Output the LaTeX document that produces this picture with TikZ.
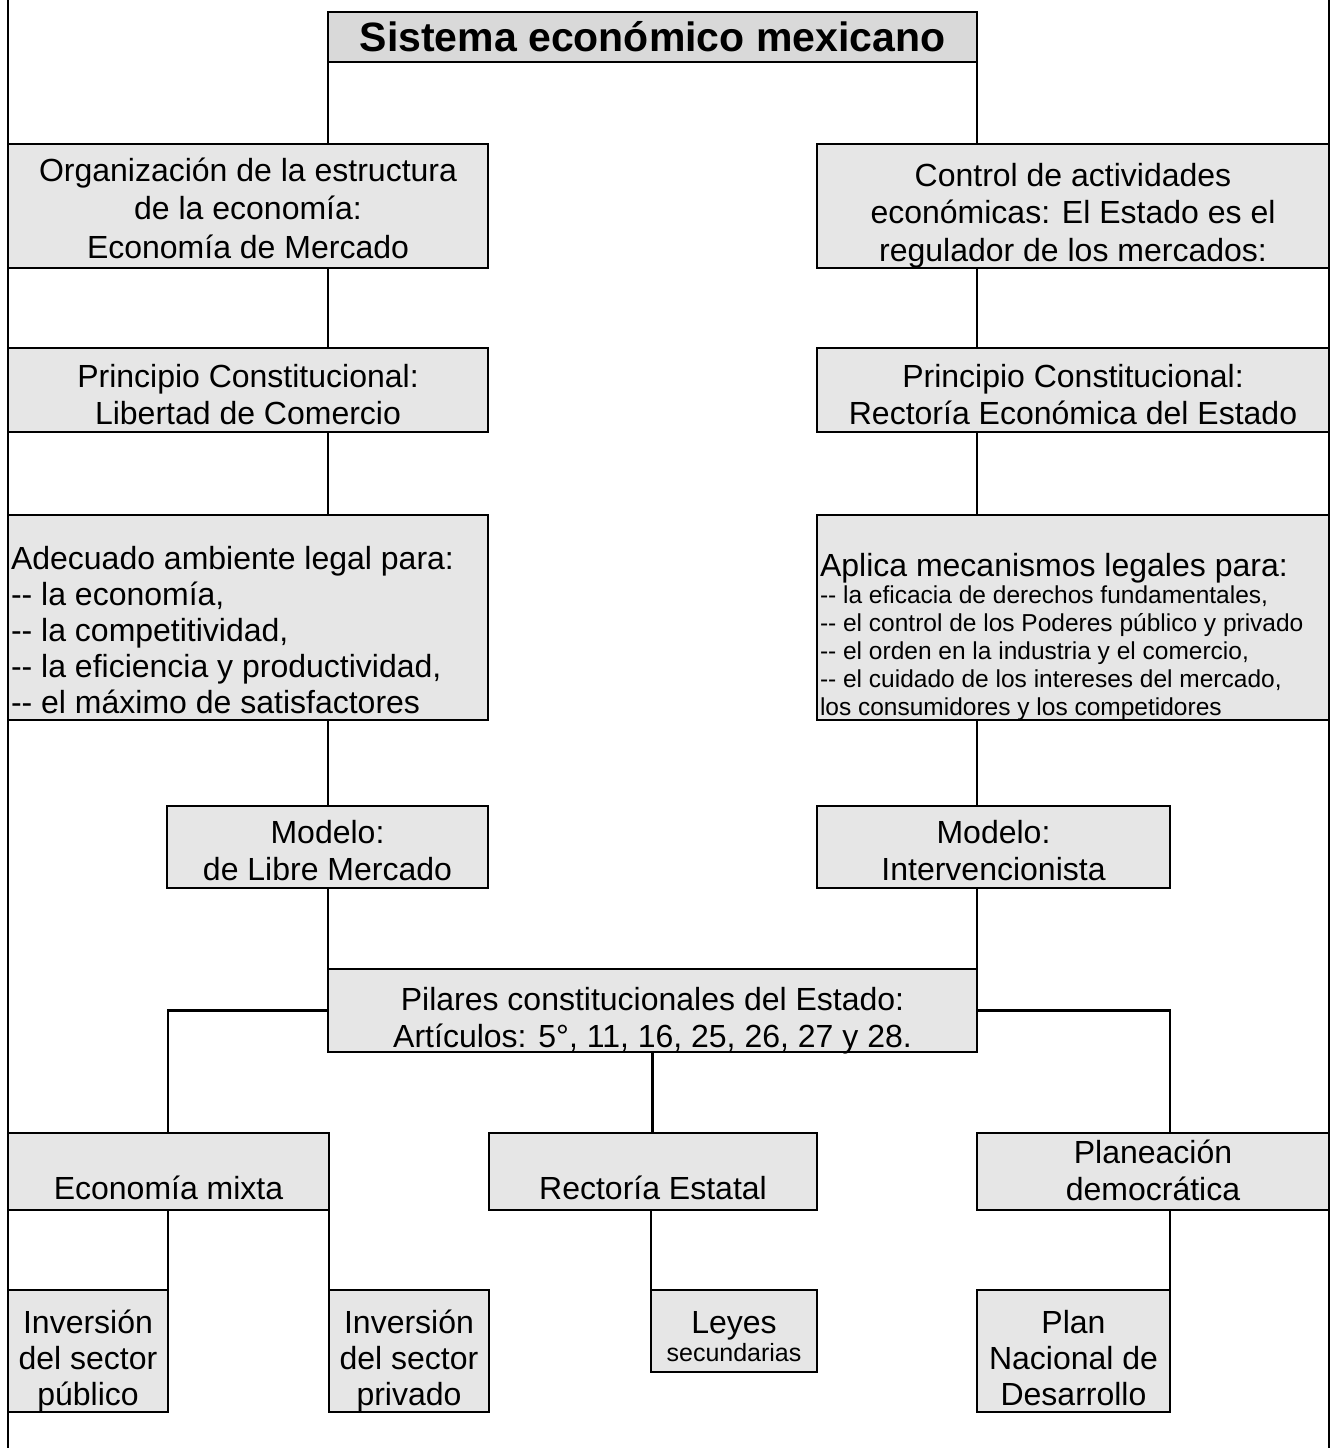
\documentclass[tikz,border=0pt]{standalone}
\usepackage{fontspec}
\setmainfont{Liberation Sans}
\usetikzlibrary{fit}
\definecolor{boxfill}{HTML}{E6E6E6}
\definecolor{titlefill}{HTML}{D9D9D9}
\begin{document}
\begin{tikzpicture}[x=1pt,y=-1pt,
  box/.style={draw=black, line width=2.8pt, fill=boxfill, inner sep=0pt, outer sep=0pt},
  titlebox/.style={box, fill=titlefill},
  txt/.style={inner sep=0pt, outer sep=0pt, align=center, anchor=base, font=\fontsize{32}{37}\selectfont},
  ltxt/.style={txt, align=left, anchor=base west},
  conn/.style={draw=black, line width=2.8pt},
  frame/.style={draw=black, line width=2.5pt}
]
\useasboundingbox (0,0) rectangle (1334,1448);
% outer frame lines
\coordinate (fl1) at (8,0); \coordinate (fl2) at (8,1448);
\coordinate (fr1) at (1329,0); \coordinate (fr2) at (1329,1448);
\draw[frame] (fl1) -- (fl2);
\draw[frame] (fr1) -- (fr2);
% column coordinates
\coordinate (cL) at (328,0);
\coordinate (cR) at (977,0);
% boxes
\node[titlebox, fit={(328,12) (977,62)}] (title) {};
\node[box, fit={(8,144) (488,268)}] (org) {};
\node[box, fit={(817,144) (1329,268)}] (ctrl) {};
\node[box, fit={(8,348) (488,432)}] (prinL) {};
\node[box, fit={(817,348) (1329,432)}] (prinR) {};
\node[box, fit={(8,515) (488,720)}] (adec) {};
\node[box, fit={(817,515) (1329,720)}] (aplica) {};
\node[box, fit={(167,806) (488,888)}] (modL) {};
\node[box, fit={(817,806) (1170,888)}] (modR) {};
\node[box, fit={(328,969) (977,1052)}] (pil) {};
\node[box, fit={(8,1133) (329,1210)}] (econ) {};
\node[box, fit={(489,1133) (817,1210)}] (rect) {};
\node[box, fit={(977,1133) (1329,1210)}] (planea) {};
\node[box, fit={(8,1290) (168,1412)}] (inpub) {};
\node[box, fit={(329,1290) (489,1412)}] (inpriv) {};
\node[box, fit={(651,1290) (817,1372)}] (leyes) {};
\node[box, fit={(977,1290) (1170,1412)}] (plan) {};
% connectors
\draw[conn] (title.south west) -- (title.south west |- org.north);
\draw[conn] (title.south east) -- (title.south east |- ctrl.north);
\draw[conn] (org.south -| cL) -- (prinL.north -| cL);
\draw[conn] (prinL.south -| cL) -- (adec.north -| cL);
\draw[conn] (adec.south -| cL) -- (modL.north -| cL);
\draw[conn] (modL.south -| cL) -- (pil.north west);
\draw[conn] (ctrl.south -| cR) -- (prinR.north -| cR);
\draw[conn] (prinR.south -| cR) -- (aplica.north -| cR);
\draw[conn] (aplica.south -| cR) -- (modR.north -| cR);
\draw[conn] (modR.south -| cR) -- (pil.north east);
\draw[conn] (pil.west) -| (econ.north -| inpub.east);
\draw[conn] (pil.east) -| (planea.north -| plan.east);
\draw[conn] (pil.south) -- (pil.south |- rect.north);
\draw[conn] (econ.south -| inpub.east) -- (inpub.north east);
\draw[conn] (econ.south east) -- (econ.south east |- inpriv.north);
\draw[conn] (rect.south -| leyes.west) -- (leyes.north west);
\draw[conn] (planea.south -| plan.east) -- (plan.north east);
% texts (anchor=base is the baseline of the last line)
\node[txt, font=\fontsize{41}{41}\selectfont\bfseries] (title-t) at (652.5,51) {Sistema económico mexicano};
\node[txt, font=\fontsize{32}{38.5}\selectfont] (org-t) at (248,258) {Organización de la estructura\\de la economía:\\Economía de Mercado};
\node[txt, font=\fontsize{32}{37.5}\selectfont] (ctrl-t) at (1073,261) {Control de actividades\\económicas: El Estado es el\\regulador de los mercados:};
\node[txt] (prinL-t) at (248,424) {Principio Constitucional:\\Libertad de Comercio};
\node[txt] (prinR-t) at (1073,424) {Principio Constitucional:\\Rectoría Económica del Estado};
\node[ltxt, font=\fontsize{32}{36}\selectfont] (adec-t) at (11,713) {Adecuado ambiente legal para:\\-{}- la economía,\\-{}- la competitividad,\\-{}- la eficiencia y productividad,\\-{}- el máximo de satisfactores};
\node[ltxt] (aplica-t1) at (820,576) {Aplica mecanismos legales para:};
\node[ltxt, font=\fontsize{24.5}{27.8}\selectfont] (aplica-t2) at (820,715) {-{}- la eficacia de derechos fundamentales,\\-{}- el control de los Poderes público y privado\\-{}- el orden en la industria y el comercio,\\-{}- el cuidado de los intereses del mercado,\\los consumidores y los competidores};
\node[txt] (modL-t) at (327.5,880) {Modelo:\\de Libre Mercado};
\node[txt] (modR-t) at (993.5,880) {Modelo:\\Intervencionista};
\node[txt, font=\fontsize{32}{37}\selectfont] (pil-t) at (652.5,1047) {Pilares constitucionales del Estado:\\Artículos: 5°, 11, 16, 25, 26, 27 y 28.};
\node[txt] (econ-t) at (168.5,1199) {Economía mixta};
\node[txt] (rect-t) at (653,1199) {Rectoría Estatal};
\node[txt, font=\fontsize{32}{37}\selectfont] (planea-t) at (1153,1200) {Planeación\\democrática};
\node[txt, font=\fontsize{32}{36}\selectfont] (inpub-t) at (88,1405) {Inversión\\del sector\\público};
\node[txt, font=\fontsize{32}{36}\selectfont] (inpriv-t) at (409,1405) {Inversión\\del sector\\privado};
\node[txt] (leyes-t1) at (734,1333) {Leyes};
\node[txt, font=\fontsize{25}{25}\selectfont] (leyes-t2) at (734,1361) {secundarias};
\node[txt, font=\fontsize{32}{36}\selectfont] (plan-t) at (1073.5,1405) {Plan\\Nacional de\\Desarrollo};
\end{tikzpicture}
\end{document}
